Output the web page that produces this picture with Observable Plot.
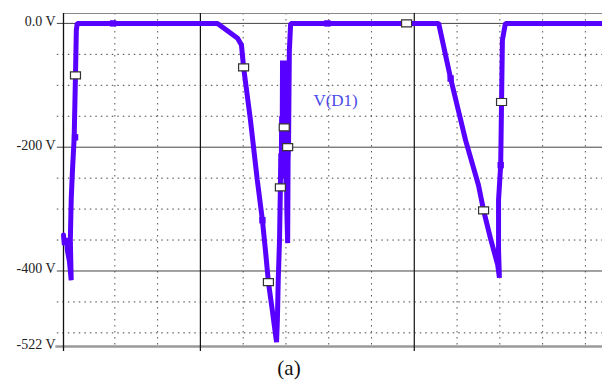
<!DOCTYPE html>
<html>
<head>
<meta charset="utf-8">
<script src="https://cdn.jsdelivr.net/npm/d3@7"></script>
<script src="https://cdn.jsdelivr.net/npm/@observablehq/plot@0.6"></script>
<style>
  html, body { margin: 0; padding: 0; background: #fff; }
  #wrap { position: relative; width: 602px; height: 385px; }
  #chart svg text { font-family: "Liberation Serif", "DejaVu Serif", serif !important; }
  #cap { position: absolute; left: 0; width: 578px; top: 356px; text-align: center;
         font-family: "Liberation Serif", serif; font-size: 21px; color: #111; }
</style>
</head>
<body>
<div id="wrap"><div id="chart"></div><div id="cap">(a)</div></div>
<script>
// time (divisions) and voltage V(D1)
const traceT = [1.80, 1.82, 1.87, 1.89, 1.94, 1.98, 1.96, 1.98, 2.01, 2.05, 2.08, 2.10, 2.12,
  5.40, 5.87, 5.96, 6.01, 6.17, 6.33, 6.45, 6.52, 6.59, 6.68, 6.78,
  6.80, 6.82, 6.85, 6.87, 6.88, 6.89, 6.90, 6.91, 6.92, 6.93, 6.94, 6.95, 6.96, 6.97, 6.98, 6.99, 7.00, 7.01, 7.02, 7.04, 7.05, 7.06, 7.07, 7.08, 7.11,
  10.57, 10.85, 11.20, 11.50, 11.62, 11.78, 11.95, 11.99, 11.97, 11.97, 12.02, 12.04, 12.06, 12.13, 14.40];
const traceV = [-342, -358, -347, -366, -385, -415, -350, -285, -237, -184, -84, -11, 0,
  0, -24, -35, -71, -156, -253, -318, -366, -418, -463, -515,
  -479, -415, -350, -265, -210, -250, -150, -230, -60, -200, -110, -240, -168, -60, -220, -80, -260, -140, -300, -355, -220, -200, -120, -44, 0,
  0, -89, -189, -261, -302, -347, -390, -411, -366, -285, -229, -127, -27, 0, 0];
const boxT = [2.08, 6.01, 6.59, 6.87, 6.96, 7.04, 9.82, 12.04, 11.62];
const boxV = [-84, -71, -418, -265, -168, -200, 0, -127, -302];
const sqT = [2.07, 2.96, 7.97, 10.85, 6.45, 12.02];
const sqV = [-184, 0, 0, -89, -318, -229];
const yTicks = [0, -200, -400, -522];
const yTickLabels = ["0.0 V", "-200 V", "-400 V", "-522 V"];
const minorY = [-50, -100, -150, -250, -300, -350, -450, -500];
const majorY = [0, -200, -400];
const majorX = [5, 10];
const minorX = [3, 4, 6, 7, 8, 9, 11, 12, 13, 14];
const seriesName = "V(D1)";

const trace = traceT.map((t, i) => ({t, v: traceV[i]}));
const boxes = boxT.map((t, i) => ({t, v: boxV[i]}));
const squares = sqT.map((t, i) => ({t, v: sqV[i]}));
const boxSymbol = { draw(ctx) { ctx.rect(-5, -3.5, 10, 7); } };
const traceColor = "#5800ff";
const serif = "Liberation Serif";

const chart = Plot.plot({
  width: 602, height: 358,
  marginLeft: 63, marginRight: 0, marginTop: 13, marginBottom: 12,
  style: { background: "#fff" },
  x: { domain: [1.8, 14.4], axis: null },
  y: { domain: [-522, 16], axis: null },
  marks: [
    Plot.ruleY(minorY, { x1: 1.655, x2: 14.4, stroke: "#444", strokeWidth: 1, strokeDasharray: "1.5,4" }),
    Plot.ruleX(minorX, { y1: 16, y2: -522, stroke: "#555", strokeWidth: 1, strokeDasharray: "1.5,4.5" }),
    Plot.ruleY(majorY, { x1: 1.655, x2: 14.4, stroke: "#444", strokeWidth: 1 }),
    Plot.ruleY([16], { x1: 1.8, x2: 14.4, stroke: "#888", strokeWidth: 1.2 }),
    Plot.ruleY([-522], { x1: 1.62, x2: 14.4, stroke: "#9a9a9a", strokeWidth: 2.5 }),
    Plot.ruleX(majorX, { y1: 16, y2: -530, stroke: "#111", strokeWidth: 1.2 }),
    Plot.ruleX([1.8], { y1: 16, y2: -530, stroke: "#111", strokeWidth: 1.3 }),
    Plot.axisY({ ticks: yTicks, tickFormat: (d) => yTickLabels[yTicks.indexOf(d)], tickSize: 0, label: null,
      tickPadding: 8, fontSize: 14, fontFamily: serif, dy: -2, color: "#222" }),
    Plot.line(trace, { x: "t", y: "v", stroke: traceColor, strokeWidth: 5, strokeLinejoin: "miter", curve: "linear" }),
    Plot.dot(squares, { x: "t", y: "v", symbol: "square", r: 3.6, fill: traceColor, stroke: null }),
    Plot.dot(boxes, { x: "t", y: "v", symbol: boxSymbol, fill: "#fff", stroke: "#333", strokeWidth: 1.2 }),
    Plot.text([seriesName], { x: 8.16, y: -124, text: (d) => d, fontSize: 17, fontFamily: serif, fill: "#4a4ae8" })
  ]
});
document.getElementById("chart").appendChild(chart);
</script>
</body>
</html>
